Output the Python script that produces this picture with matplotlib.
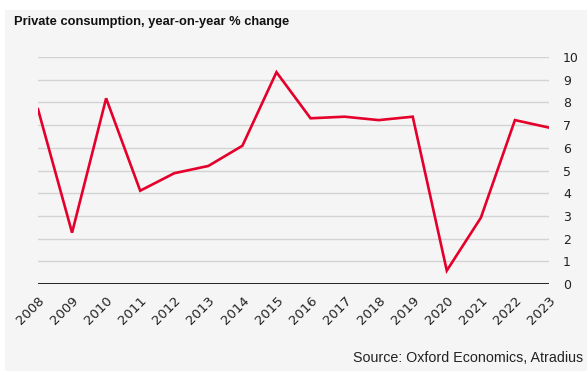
import matplotlib
matplotlib.use("Agg")
import matplotlib.pyplot as plt
from matplotlib.patches import Rectangle

# Private consumption growth, % year-on-year
years = list(range(2008, 2024))
growth = [7.70, 2.26, 8.18, 4.11, 4.88, 5.20, 6.09, 9.33,
          7.30, 7.37, 7.22, 7.37, 0.59, 2.92, 7.22, 6.89]
y_ticks = list(range(0, 11))

RED = "#e4002b"
PANEL = "#f5f5f5"
FONT = ["Liberation Sans", "DejaVu Sans"]

fig = plt.figure(figsize=(5.87, 3.71), dpi=100)
fig.patch.set_facecolor("white")
fig.patches.append(Rectangle((5 / 587, 0), 1, 1 - 10 / 371,
                             transform=fig.transFigure, facecolor=PANEL,
                             edgecolor="none", zorder=-10))

ax = fig.add_axes([38 / 587, 1 - 284 / 371, (549 - 38) / 587, (284 - 57) / 371])
ax.patch.set_alpha(0)

ax.plot(years, growth, color=RED, lw=1.9, solid_joinstyle="miter", zorder=3)

ax.set_xlim(years[0], years[-1])
ax.set_ylim(0, 10)
ax.set_yticks(y_ticks)
ax.yaxis.tick_right()
ax.tick_params(axis="y", length=0, pad=10, labelsize=9, colors="#222222")
ax.set_xticks(years)
ax.set_xticklabels([str(y) for y in years], rotation=45, ha="right",
                   rotation_mode="anchor", fontsize=9.5, color="#222222")
ax.tick_params(axis="x", length=0, pad=7)

for v in y_ticks[1:]:
    ax.axhline(v, color="#d3d3d3", lw=1.0, zorder=1)
ax.axhline(0, color="#222222", lw=1.4, zorder=2)

for s in ax.spines.values():
    s.set_visible(False)

fig.text(14 / 587, 1 - 22 / 371, "Private consumption, year-on-year % change",
         fontsize=9.3, fontweight="bold", va="center", ha="left",
         color="#111111", family=FONT)
fig.text(583 / 587, 1 - 358 / 371, "Source: Oxford Economics, Atradius",
         fontsize=10.3, va="center", ha="right", color="#222222", family=FONT)

fig.savefig("out.png", dpi=100, facecolor=fig.get_facecolor())
